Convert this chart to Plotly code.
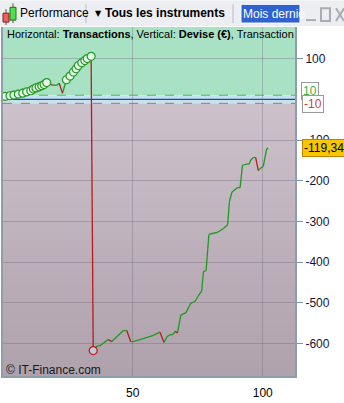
import plotly.graph_objects as go

# ---------------- data ----------------
trade_x = [0.9, 2.8, 4.3, 6.0, 7.7, 9.2, 10.8, 11.8, 12.8, 14.0, 15.0, 15.9, 16.9,
           18.2, 19.2, 20.8, 21.7, 23.0, 24.5, 25.9, 27.2, 28.2, 29.1, 30.4, 31.6,
           32.5, 34.0, 34.8, 36.2, 37.4, 40.6, 41.9, 46.4, 47.7, 49.2, 50.2, 54.0,
           57.9, 60.5, 62.0, 63.1, 64.3, 65.4, 66.3, 67.2, 68.5, 70.5, 72.3, 74.0,
           75.2, 76.5, 77.2, 78.2, 79.3, 81.0, 82.5, 84.8, 86.5, 87.2, 88.1, 88.7,
           90.2, 91.3, 92.2, 93.8, 94.8, 95.4, 96.4, 97.3, 98.3, 99.2, 100.2, 101.5,
           102.1]
equity = [7, 8.7, 10.4, 12.8, 15, 18.4, 21, 25, 28, 30.5, 33, 36, 41,
          37, 34.6, 34.6, 39.5, 15, 48, 57, 67, 75, 83, 89.6, 95,
          100, 105.6, -617, -606, -605, -590, -595, -568, -568, -595, -595, -588,
          -580, -572, -597, -584, -578, -578, -570, -574, -530, -524, -501, -496,
          -483, -471, -423, -421, -332, -329, -327, -318, -308, -251, -229, -225,
          -217, -217, -162, -159, -159, -149, -143, -143, -175, -169, -165, -122,
          -119.34]
y_tick_vals = [100, -100, -200, -300, -400, -500, -600]
y_tick_text = ["100", "-100", "-200", "-300", "-400", "-500", "-600"]
x_tick_vals = [50, 100]
x_tick_text = ["50", "100"]
last_value_text = "-119,34"
upper_band_text = "10"
lower_band_text = "-10"
band_upper = 10
band_lower = -10
header_text = "Horizontal: <b>Transactions</b>, Vertical: <b>Devise (€)</b>, Transaction"
watermark_text = "© IT-Finance.com"
toolbar_perf = "Performance"
toolbar_instr = "<b>Tous les instruments</b>"
toolbar_period = "Mois dernie"

# ---------------- geometry ----------------
W, H = 344, 403
L, R, T, B = 3, 296, 27, 382
XR = [0.1, 112.8]
YR = [-682, 177.5]
FONT = "Liberation Sans, Arial, sans-serif"


def px(x):
    return (x - L) / (R - L)


def py(y):
    return (B - y) / (B - T)


# ---------------- segments ----------------
gx, gy, rx, ry = [], [], [], []
for i in range(1, len(trade_x)):
    sx = [trade_x[i - 1], trade_x[i], None]
    sy = [equity[i - 1], equity[i], None]
    if equity[i] >= equity[i - 1]:
        gx += sx
        gy += sy
    else:
        rx += sx
        ry += sy

peak_x, peak_y = [], []
run = float("-inf")
for xv, yv in zip(trade_x, equity):
    if yv > run:
        run = yv
        peak_x.append(xv)
        peak_y.append(yv)

imin = equity.index(min(equity))

fig = go.Figure()
fig.add_trace(go.Scatter(x=gx, y=gy, mode="lines", line=dict(color="#1f9a1f", width=1.3),
                         hoverinfo="skip", showlegend=False))
fig.add_trace(go.Scatter(x=rx, y=ry, mode="lines", line=dict(color="#b41e1e", width=1.3),
                         hoverinfo="skip", showlegend=False))
fig.add_trace(go.Scatter(x=peak_x, y=peak_y, mode="markers",
                         marker=dict(size=8, color="#e6f6ea", line=dict(color="#1f9a1f", width=1.2)),
                         showlegend=False))
fig.add_trace(go.Scatter(x=[trade_x[imin]], y=[equity[imin]], mode="markers",
                         marker=dict(size=8, color="#c4c8d8", line=dict(color="#c01818", width=1.2)),
                         showlegend=False))

shapes = []
# background regions (gradient first, overlapping to avoid seams)
N = 30
top_c = (204, 192, 203)
bot_c = (175, 162, 173)
span = band_lower - YR[0]
for k in range(N):
    t = k / (N - 1)
    c = tuple(int(round(top_c[j] + (bot_c[j] - top_c[j]) * t)) for j in range(3))
    y1 = band_lower - span * k / N
    y0 = YR[0] - 10
    shapes.append(dict(type="rect", xref="paper", yref="y", x0=0, x1=1, y0=y0, y1=y1,
                       fillcolor="rgb(%d,%d,%d)" % c, line_width=0, layer="below"))
shapes.append(dict(type="rect", xref="paper", yref="y", x0=0, x1=1, y0=band_upper, y1=YR[1] + 10,
                   fillcolor="#a9e1c5", line_width=0, layer="below"))
shapes.append(dict(type="rect", xref="paper", yref="y", x0=0, x1=1, y0=band_lower, y1=band_upper,
                   fillcolor="#c4e3ec", line_width=0, layer="below"))
# band lines
shapes.append(dict(type="line", xref="paper", yref="y", x0=0, x1=1, y0=band_upper, y1=band_upper,
                   line=dict(color="#4cb84c", width=1, dash="dash"), layer="below"))
shapes.append(dict(type="line", xref="paper", yref="y", x0=0, x1=1, y0=band_lower, y1=band_lower,
                   line=dict(color="#d06464", width=1, dash="dash"), layer="below"))
shapes.append(dict(type="line", xref="paper", yref="y", x0=0, x1=1, y0=0, y1=0,
                   line=dict(color="#2a3cc0", width=1.2), layer="below"))
# frame
frame = "#8c9eae"
shapes.append(dict(type="line", xref="paper", yref="paper", x0=px(2), x1=px(2), y0=py(382), y1=py(27),
                   line=dict(color=frame, width=2)))
shapes.append(dict(type="line", xref="paper", yref="paper", x0=px(296), x1=px(296), y0=py(383), y1=py(27),
                   line=dict(color=frame, width=2)))
shapes.append(dict(type="line", xref="paper", yref="paper", x0=px(1), x1=px(297), y0=py(382), y1=py(382),
                   line=dict(color=frame, width=2)))
# toolbar
shapes.append(dict(type="rect", xref="paper", yref="paper", x0=px(0), x1=px(344), y0=py(26), y1=py(0),
                   fillcolor="#eceef2", line_width=0))
# candle icon
shapes.append(dict(type="line", xref="paper", yref="paper", x0=px(6), x1=px(6), y0=py(25), y1=py(9),
                   line=dict(color="#555", width=1)))
shapes.append(dict(type="rect", xref="paper", yref="paper", x0=px(3), x1=px(9), y0=py(22), y1=py(13),
                   fillcolor="#f06060", line=dict(color="#802020", width=1)))
shapes.append(dict(type="line", xref="paper", yref="paper", x0=px(13), x1=px(13), y0=py(23), y1=py(3),
                   line=dict(color="#555", width=1)))
shapes.append(dict(type="rect", xref="paper", yref="paper", x0=px(10), x1=px(16), y0=py(20), y1=py(7),
                   fillcolor="#50e050", line=dict(color="#207020", width=1)))
# separators
for sx in (86, 233):
    shapes.append(dict(type="line", xref="paper", yref="paper", x0=px(sx), x1=px(sx), y0=py(23), y1=py(4),
                       line=dict(color="#b8bcc4", width=1)))
# period box
shapes.append(dict(type="rect", xref="paper", yref="paper", x0=px(241), x1=px(300), y0=py(23), y1=py(4),
                   fillcolor="#2f62d0", line=dict(color="#ffffff", width=1)))
# window buttons
wb = "#a8acb4"
shapes.append(dict(type="line", xref="paper", yref="paper", x0=px(306), x1=px(316), y0=py(20), y1=py(20),
                   line=dict(color=wb, width=2)))
shapes.append(dict(type="rect", xref="paper", yref="paper", x0=px(321), x1=px(330), y0=py(21), y1=py(8),
                   line=dict(color=wb, width=2)))
shapes.append(dict(type="line", xref="paper", yref="paper", x0=px(336), x1=px(344), y0=py(21), y1=py(8),
                   line=dict(color=wb, width=2)))
shapes.append(dict(type="line", xref="paper", yref="paper", x0=px(336), x1=px(344), y0=py(8), y1=py(21),
                   line=dict(color=wb, width=2)))

annotations = [
    dict(xref="paper", yref="paper", x=px(5), y=py(34), xanchor="left", yanchor="middle",
         text=header_text, showarrow=False, font=dict(family=FONT, size=11, color="#000")),
    dict(xref="paper", yref="paper", x=px(4), y=py(375), xanchor="left", yanchor="middle",
         text=watermark_text, showarrow=False, font=dict(family=FONT, size=12, color="#1a1a1a")),
    dict(xref="paper", yref="paper", x=px(18), y=py(13), xanchor="left", yanchor="middle",
         text=toolbar_perf, showarrow=False, font=dict(family=FONT, size=12, color="#000")),
    dict(xref="paper", yref="paper", x=px(93), y=py(13), xanchor="left", yanchor="middle",
         text="▼", showarrow=False, font=dict(family="DejaVu Sans", size=8, color="#000")),
    dict(xref="paper", yref="paper", x=px(103), y=py(13), xanchor="left", yanchor="middle",
         text=toolbar_instr, showarrow=False, font=dict(family=FONT, size=12, color="#000")),
    dict(xref="paper", yref="paper", x=px(241), y=py(13.5), xanchor="left", yanchor="middle",
         text=toolbar_period, showarrow=False, font=dict(family=FONT, size=12, color="#ffffff")),
    dict(xref="paper", yref="y", x=px(301), y=band_upper, yshift=4, xanchor="left", yanchor="middle",
         text=upper_band_text, showarrow=False, bgcolor="#ffffff", bordercolor="#9a9a9a", borderwidth=1,
         borderpad=1, font=dict(family=FONT, size=12, color="#40b040")),
    dict(xref="paper", yref="y", x=px(302), y=band_lower, yshift=-1, xanchor="left", yanchor="middle",
         text=lower_band_text, showarrow=False, bgcolor="#ffffff", bordercolor="#9a9a9a", borderwidth=1,
         borderpad=1, font=dict(family=FONT, size=12, color="#d04040")),
    dict(xref="paper", yref="y", x=px(302), y=equity[-1], xanchor="left", yanchor="middle",
         text=last_value_text, showarrow=False, bgcolor="#f7c600", bordercolor="#c08000", borderwidth=1,
         borderpad=1, font=dict(family=FONT, size=12, color="#000")),
]

fig.update_layout(
    width=W, height=H,
    margin=dict(l=L, r=W - R, t=T, b=H - B, pad=0),
    paper_bgcolor="#ffffff", plot_bgcolor="rgba(0,0,0,0)",
    shapes=shapes, annotations=annotations,
    showlegend=False,
    font=dict(family=FONT, size=12, color="#000"),
    xaxis=dict(range=XR, tickvals=x_tick_vals, ticktext=x_tick_text, showgrid=True,
               gridcolor="rgba(110,100,120,0.35)", gridwidth=1, zeroline=False, showline=False,
               ticks="outside", ticklen=5, tickcolor="rgba(0,0,0,0)",
               tickfont=dict(family=FONT, size=12, color="#000")),
    yaxis=dict(range=YR, side="right", tickvals=y_tick_vals, ticktext=y_tick_text, showgrid=True,
               gridcolor="rgba(110,100,120,0.35)", gridwidth=1, zeroline=False, showline=False,
               ticks="outside", ticklen=6, tickcolor="#7f96a8",
               tickfont=dict(family=FONT, size=12, color="#14143a")),
)

fig.write_html("out.html")
